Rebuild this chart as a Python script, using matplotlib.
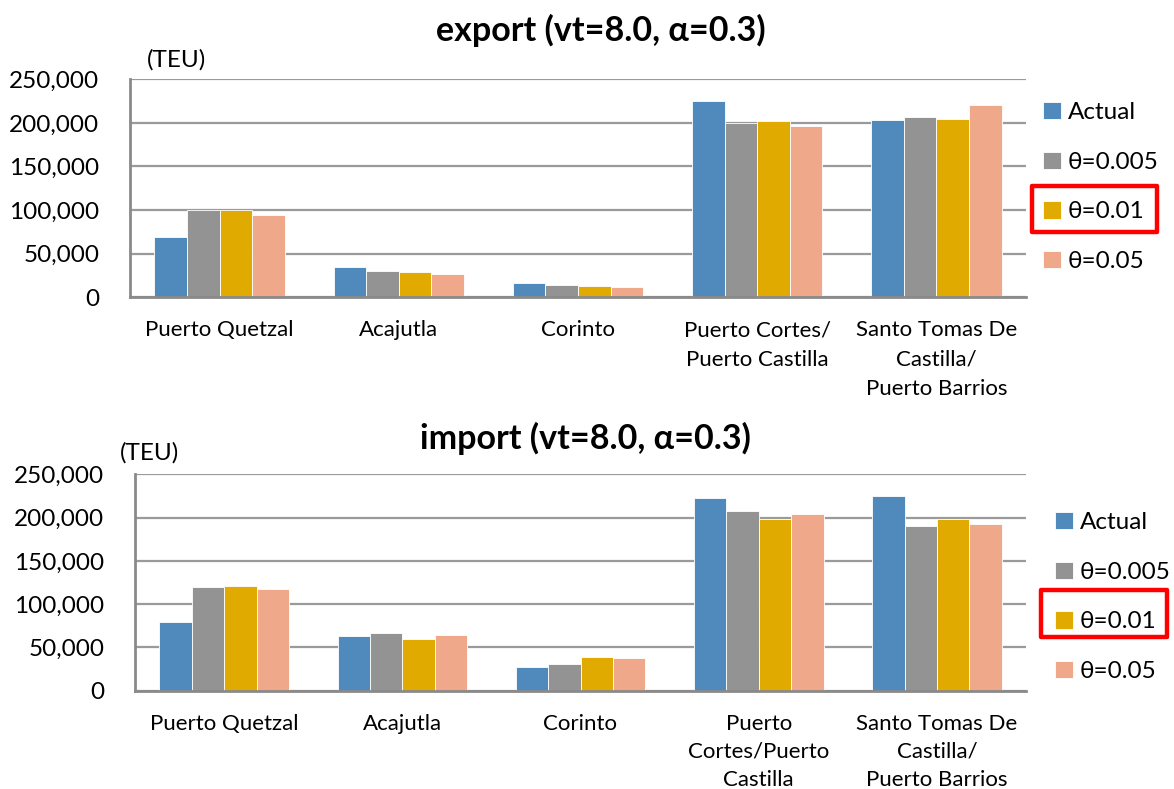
import matplotlib
matplotlib.use("Agg")
import matplotlib.pyplot as plt
from matplotlib.patches import Rectangle
from matplotlib.ticker import FuncFormatter, MultipleLocator
import numpy as np

FONT = ["Lato", "DejaVu Sans"]
plt.rcParams["font.family"] = FONT

series_names = ["Actual", "θ=0.005", "θ=0.01", "θ=0.05"]
colors = ["#508ABC", "#939393", "#E1AA00", "#F0A88A"]

export_labels = ["Puerto Quetzal", "Acajutla", "Corinto",
                 "Puerto Cortes/\nPuerto Castilla",
                 "Santo Tomas De\nCastilla/\nPuerto Barrios"]
import_labels = ["Puerto Quetzal", "Acajutla", "Corinto",
                 "Puerto\nCortes/Puerto\nCastilla",
                 "Santo Tomas De\nCastilla/\nPuerto Barrios"]

export_actual = [69500, 35100, 16000, 225500, 203300]
export_t0005 = [100100, 30500, 13800, 200200, 206400]
export_t001 = [100500, 29400, 12600, 202500, 204100]
export_t005 = [94300, 26700, 11500, 196400, 220500]

import_actual = [79000, 62800, 27400, 222500, 224800]
import_t0005 = [120000, 67000, 30800, 207900, 190200]
import_t001 = [121000, 60000, 38500, 198600, 198300]
import_t005 = [118000, 64700, 37400, 203700, 192500]

W, H = 1174, 789
fig = plt.figure(figsize=(W / 100, H / 100), dpi=100)


def px_rect(x0, y0, x1, y1):
    return [x0 / W, 1 - y1 / H, (x1 - x0) / W, (y1 - y0) / H]


def draw_panel(rect, title, title_xy, teu_xy, labels, data, legend_xy, box,
               label_spacing):
    ax = fig.add_axes(rect)
    n = len(data)
    bw = 1.0 / (n + 1.5)
    x = np.arange(len(labels))
    handles = []
    for i, (vals, c, name) in enumerate(zip(data, colors, series_names)):
        offs = (i - (n - 1) / 2) * bw
        h = ax.bar(x + offs, vals, width=bw, color=c, edgecolor="white",
                   linewidth=0.6, label=name, zorder=3)
        handles.append(h)
    ax.set_xlim(-0.5, len(labels) - 0.5)
    ax.set_ylim(0, 250000)
    ax.yaxis.set_major_locator(MultipleLocator(50000))
    ax.yaxis.set_major_formatter(FuncFormatter(lambda v, p: f"{int(v):,}"))
    ax.grid(axis="y", color="#9a9a9a", linewidth=1.6, zorder=0)
    ax.set_axisbelow(True)
    for s in ["top", "right"]:
        ax.spines[s].set_visible(False)
    for s in ["left", "bottom"]:
        ax.spines[s].set_color("#8a8a8a")
        ax.spines[s].set_linewidth(2.0)
    ax.spines["bottom"].set_zorder(4)
    ax.tick_params(axis="y", length=0, pad=22, labelsize=17.5)
    ax.tick_params(axis="x", length=0, pad=16.5, labelsize=16)
    ax.set_xticks(x)
    ax.set_xticklabels(labels, linespacing=label_spacing, va="top")
    fig.text(title_xy[0] / W, 1 - title_xy[1] / H, title, fontsize=24.5,
             fontweight="bold", ha="center", va="center", family=FONT)
    fig.text(teu_xy[0] / W, 1 - teu_xy[1] / H, "(TEU)", fontsize=17.5,
             ha="left", va="center", family=FONT)
    fig.legend(handles=handles, loc="upper left",
               bbox_to_anchor=(legend_xy[0] / W, 1 - legend_xy[1] / H),
               frameon=False, fontsize=17.5, handlelength=0.72,
               handleheight=0.72, handletextpad=0.3, labelspacing=1.17,
               borderaxespad=0, borderpad=0)
    x0, y0, x1, y1 = box
    fig.patches.append(Rectangle((x0 / W, 1 - y1 / H), (x1 - x0) / W,
                                 (y1 - y0) / H, transform=fig.transFigure,
                                 fill=False, edgecolor="#FF0000",
                                 linewidth=3.2, joinstyle="round"))
    return ax


draw_panel(px_rect(130, 79.3, 1026, 297.3), "export (vt=8.0, α=0.3)",
           (601, 30), (147, 60), export_labels,
           [export_actual, export_t0005, export_t001, export_t005],
           (1043, 102), (1031.5, 185.5, 1156.5, 231.5), 1.6)

draw_panel(px_rect(135, 474.3, 1026, 690.7), "import (vt=8.0, α=0.3)",
           (585, 438), (120, 453), import_labels,
           [import_actual, import_t0005, import_t001, import_t005],
           (1055, 512), (1041, 590, 1166.5, 636.5), 1.5)

fig.savefig("out.png", dpi=100, facecolor="white")
